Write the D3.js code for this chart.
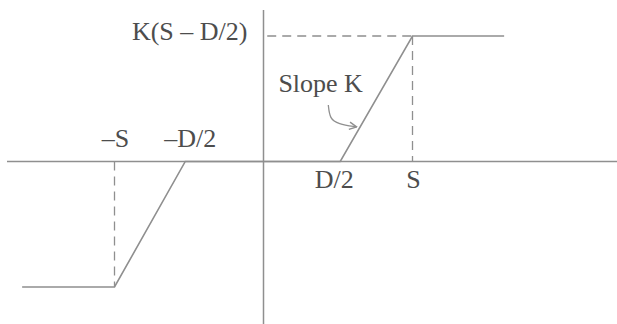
<!DOCTYPE html>
<meta charset="utf-8">
<head>
<style>
  body { margin: 0; background: #fff; }
  svg text { font-family: "Liberation Serif", "Tinos", "Times New Roman", "DejaVu Serif", serif; font-size: 26px; fill: #4d4d4d; }
</style>
</head>
<body>
  <script src="https://d3js.org/d3.v7.min.js"></script>
  <script>
    // dead-zone + saturation characteristic, in units where D/2 ~ 1, S = 2
    var curveX = [-3.24, -2, -1.05, 1.03, 2, 3.23];
    var curveY = [-1, -1, 0, 0, 1, 1];

    var satS = 2;           // S
    var satLevel = 1;       // K(S - D/2)

    var tickLabels = [
      { text: "\u2013S", x: -2, dx: 1, side: "top" },
      { text: "\u2013D/2", x: -1.05, dx: 5, side: "top" },
      { text: "D/2", x: 1.03, dx: -6, side: "bottom" },
      { text: "S", x: 2, dx: 1, side: "bottom" }
    ];
    var levelLabel = "K(S \u2013 D/2)";
    var slopeLabel = "Slope K";
    var arrowPts = [[0.87, 0.45], [0.89, 0.34], [1.0, 0.3], [1.25, 0.275]];

    var width = 617, height = 324;
    var lineColor = "#8f8f8f";

    var x = d3.scaleLinear().domain([-3.443, 4.745]).range([7, 617]);
    var y = d3.scaleLinear().domain([-1.295, 1.207]).range([324, 10]);

    var svg = d3.select("body")
      .append("svg")
      .attr("width", width)
      .attr("height", height);

    svg.append("defs").append("marker")
      .attr("id", "head")
      .attr("viewBox", "0 0 10 10")
      .attr("refX", 9).attr("refY", 5)
      .attr("markerWidth", 7).attr("markerHeight", 7)
      .attr("orient", "auto")
      .append("path")
      .attr("d", "M1,1 L9,5 L1,9")
      .attr("fill", "none")
      .attr("stroke", lineColor)
      .attr("stroke-width", 1.5);

    // axes
    svg.append("line")
      .attr("x1", x.range()[0]).attr("x2", x.range()[1])
      .attr("y1", y(0)).attr("y2", y(0))
      .style("stroke", lineColor).style("stroke-width", 1.5);
    svg.append("line")
      .attr("x1", x(0)).attr("x2", x(0))
      .attr("y1", y.range()[1]).attr("y2", y.range()[0])
      .style("stroke", lineColor).style("stroke-width", 1.5);

    // dashed guides
    var guides = [
      [[0.05, satLevel], [satS, satLevel]],
      [[satS, satLevel], [satS, 0]],
      [[-satS, 0], [-satS, -satLevel]]
    ];
    svg.append("g").selectAll("line")
      .data(guides)
      .enter().append("line")
      .attr("x1", function (d) { return x(d[0][0]); })
      .attr("y1", function (d) { return y(d[0][1]); })
      .attr("x2", function (d) { return x(d[1][0]); })
      .attr("y2", function (d) { return y(d[1][1]); })
      .style("stroke", lineColor)
      .style("stroke-width", 1.3)
      .style("stroke-dasharray", "9,6");

    // characteristic
    var line = d3.line()
      .x(function (d, i) { return x(curveX[i]); })
      .y(function (d, i) { return y(curveY[i]); });

    svg.append("path")
      .datum(curveX)
      .attr("d", line)
      .style("fill", "none")
      .style("stroke", lineColor)
      .style("stroke-width", 1.6);

    // tick labels
    svg.append("g").selectAll("text")
      .data(tickLabels)
      .enter().append("text")
      .attr("x", function (d) { return x(d.x) + d.dx; })
      .attr("y", function (d) { return d.side == "top" ? y(0) - 14 : y(0) + 27; })
      .attr("text-anchor", "middle")
      .text(function (d) { return d.text; });

    svg.append("text")
      .attr("x", x(0) - 16)
      .attr("y", y(satLevel) + 4)
      .attr("text-anchor", "end")
      .text(levelLabel);

    svg.append("text")
      .attr("x", x(0.2))
      .attr("y", y(0.55))
      .text(slopeLabel);

    svg.append("path")
      .datum(arrowPts)
      .attr("d", d3.line()
        .x(function (d) { return x(d[0]); })
        .y(function (d) { return y(d[1]); })
        .curve(d3.curveBasis))
      .style("fill", "none")
      .style("stroke", lineColor)
      .style("stroke-width", 1.3)
      .attr("marker-end", "url(#head)");
  </script>
</body>
</html>
